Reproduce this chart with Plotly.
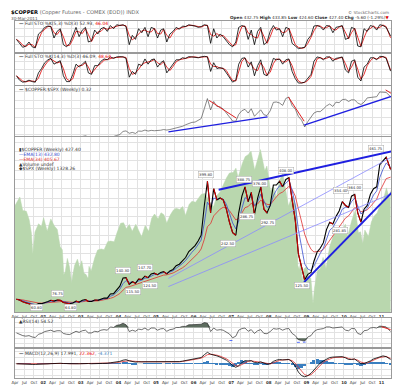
import plotly.graph_objects as go

# ---------------- DATA (monthly, Apr-2001 .. Mar-2011) ----------------
def month_dates(n=120, y0=2001, m0=4):
    out = []
    y, m = y0, m0
    for _ in range(n):
        out.append(f"{y}-{m:02d}-15")
        m += 1
        if m > 12:
            m, y = 1, y + 1
    return out

dates = month_dates()
dates[-1] = "2011-03-30"

copper_close = [
    78, 76, 71, 68, 66, 63, 61, 66, 66,
    70, 72, 75, 73, 76, 75, 69, 67, 66, 68, 73, 70,
    75, 77, 72, 72, 76, 75, 79, 81, 81, 92, 93, 104,
    113, 135, 136, 118, 125, 121, 132, 131, 140, 136, 146, 148,
    144, 150, 152, 146, 154, 158, 168, 172, 182, 190, 206, 214,
    222, 235, 250, 330, 395, 310, 375, 345, 350, 345, 320, 285,
    257, 250, 310, 355, 380, 340, 365, 305, 350, 380, 320, 310,
    330, 385, 385, 395, 380, 400, 405, 345, 290, 200, 165, 130,
    145, 150, 180, 205, 215, 230, 265, 285, 280, 300, 315, 340,
    330, 325, 355, 360, 310, 285, 320, 330, 360, 375, 380, 440,
    450, 460, 427,
]
ema13 = [
    78, 77, 74, 71, 68.5, 66, 63.5, 64.7, 65.4,
    67.7, 69.8, 72.4, 72.7, 74.4, 74.7, 71.8, 69.4, 67.7, 67.9, 70.4, 70.2,
    72.6, 74.8, 73.4, 72.7, 74.3, 74.7, 76.8, 78.9, 80, 86, 89.5, 96.7,
    105, 120, 128, 123, 124, 122.5, 127, 129, 134.6, 135.3, 140.6, 144.3,
    144, 147, 149.6, 147.8, 151, 154.5, 161, 166.6, 174, 182, 194, 204,
    213, 224, 237, 283, 339, 325, 350, 347, 349, 347, 333, 309,
    283, 267, 288, 322, 351, 345, 355, 330, 340, 360, 340, 325,
    328, 356, 371, 383, 381, 391, 398, 371, 331, 265, 215, 173,
    159, 155, 167, 186, 201, 215, 240, 263, 271, 286, 300, 320,
    325, 325, 340, 350, 330, 307, 314, 322, 341, 358, 369, 405,
    427, 444, 433,
]
ema34 = [
    78, 77.6, 76.2, 74.4, 72.5, 70.4, 68.3, 67.8, 67.4,
    68, 68.8, 70.2, 70.8, 72, 72.7, 72, 70.9, 69.8, 69.4, 70.2, 70.2,
    71.2, 72.5, 72.4, 72.3, 73.1, 73.5, 74.7, 76.1, 77.2, 80.4, 83.2, 87.8,
    93.3, 102.5, 109.8, 111.6, 114.5, 115.9, 119.4, 122, 126, 128, 132, 135.5,
    137.4, 140, 142.8, 143.5, 145.8, 148.5, 152.8, 157, 162.5, 168.6, 177, 185,
    193, 202, 213, 239, 273, 281, 302, 311, 320, 325, 324, 316,
    303, 291, 295, 308, 324, 327, 336, 329, 334, 344, 339, 333,
    332, 344, 353, 362, 366, 374, 381, 373, 355, 321, 287, 253,
    229, 212, 205, 205, 207, 212, 224, 237, 247, 259, 271, 286,
    296, 302, 314, 324, 321, 313, 315, 318, 327, 338, 347, 368,
    386, 402, 406,
]
copper_spx_ratio = [
    .062, .061, .058, .056, .058, .061, .058, .058, .057,
    .062, .065, .065, .068, .071, .076, .076, .073, .081, .077, .078, .080,
    .088, .092, .085, .079, .079, .077, .080, .080, .081, .088, .088, .094,
    .100, .118, .121, .107, .112, .106, .120, .119, .126, .120, .124, .122,
    .122, .125, .129, .126, .129, .133, .136, .141, .148, .157, .165, .171,
    .173, .183, .193, .252, .311, .244, .294, .265, .262, .250, .228, .201,
    .179, .178, .218, .240, .248, .226, .251, .207, .229, .245, .216, .211,
    .239, .289, .291, .285, .271, .312, .320, .269, .249, .206, .184, .144,
    .176, .204, .226, .235, .234, .250, .268, .279, .265, .290, .287, .305,
    .307, .294, .304, .303, .285, .276, .290, .315, .316, .317, .322, .350,
    .350, .347, .322,
]
sto5_k = [
    40, 25, 10, 15, 30, 12, 8, 60, 70,
    85, 90, 88, 45, 70, 80, 20, 12, 25, 55, 85, 50,
    75, 85, 30, 35, 75, 60, 80, 85, 70, 92, 80, 95,
    92, 95, 88, 20, 55, 40, 80, 65, 85, 50, 85, 80,
    45, 75, 80, 30, 60, 70, 85, 78, 90, 88, 95, 92,
    90, 85, 88, 95, 92, 25, 80, 45, 60, 50, 35, 20,
    12, 30, 85, 92, 88, 40, 75, 20, 70, 85, 20, 30,
    70, 92, 75, 80, 50, 85, 80, 25, 15, 5, 8, 10,
    40, 55, 90, 92, 88, 75, 92, 90, 65, 85, 88, 92,
    40, 45, 85, 80, 15, 12, 80, 70, 92, 88, 75, 95,
    92, 85, 53,
]
sto5_d = [
    40, 32, 18, 13, 22, 20, 10, 35, 65,
    78, 88, 89, 65, 58, 75, 50, 16, 18, 40, 70, 68,
    62, 80, 58, 32, 55, 68, 70, 82, 78, 82, 86, 88,
    93, 93, 91, 55, 38, 48, 60, 72, 75, 68, 68, 82,
    62, 60, 78, 55, 45, 65, 78, 82, 84, 89, 92, 93,
    91, 88, 86, 92, 93, 58, 52, 62, 52, 55, 42, 28,
    16, 20, 58, 88, 90, 64, 58, 48, 45, 78, 52, 25,
    50, 81, 84, 78, 65, 68, 82, 52, 20, 10, 6, 9,
    25, 48, 72, 91, 90, 82, 84, 91, 78, 75, 86, 90,
    66, 42, 65, 82, 48, 14, 46, 75, 81, 90, 82, 85,
    94, 88, 46,
]
sto14_k = [
    30, 15, 8, 10, 15, 10, 8, 40, 55,
    75, 85, 90, 70, 75, 82, 30, 10, 10, 35, 70, 60,
    70, 80, 40, 35, 65, 65, 80, 88, 85, 95, 90, 95,
    96, 95, 90, 25, 45, 35, 70, 65, 88, 70, 85, 88,
    60, 75, 82, 40, 55, 70, 85, 85, 92, 90, 96, 95,
    94, 92, 95, 97, 95, 45, 75, 55, 58, 55, 40, 22,
    8, 15, 70, 90, 92, 60, 78, 30, 65, 85, 35, 30,
    55, 90, 85, 88, 70, 85, 88, 45, 20, 5, 5, 8,
    20, 35, 80, 95, 92, 85, 95, 95, 80, 90, 92, 95,
    50, 40, 80, 85, 25, 12, 60, 70, 92, 92, 85, 97,
    96, 90, 46,
]
sto14_d = [
    30, 22, 12, 9, 12, 12, 10, 22, 48,
    65, 80, 88, 80, 74, 78, 55, 20, 12, 20, 55, 65,
    66, 75, 60, 38, 50, 65, 72, 84, 86, 90, 92, 93,
    95, 95, 93, 55, 35, 40, 52, 68, 75, 78, 80, 86,
    75, 68, 78, 60, 48, 62, 78, 85, 88, 91, 93, 95,
    95, 93, 94, 96, 96, 70, 62, 62, 56, 56, 48, 30,
    14, 12, 42, 80, 91, 75, 70, 52, 48, 75, 58, 32,
    42, 72, 88, 86, 78, 78, 86, 65, 32, 12, 6, 7,
    14, 28, 58, 88, 93, 88, 90, 95, 88, 86, 91, 93,
    72, 45, 60, 82, 52, 18, 35, 65, 82, 92, 88, 92,
    96, 93, 49,
]
rsi14 = [
    50, 45, 40, 38, 40, 35, 33, 45, 48,
    55, 58, 60, 55, 58, 58, 48, 45, 44, 50, 56, 52,
    58, 60, 50, 50, 56, 54, 60, 62, 60, 72, 70, 78,
    80, 86, 80, 55, 60, 56, 64, 62, 68, 60, 68, 68,
    60, 65, 66, 56, 62, 64, 70, 70, 74, 74, 80, 80,
    80, 80, 82, 88, 86, 55, 68, 60, 62, 60, 54, 46,
    32, 38, 60, 66, 68, 56, 62, 48, 58, 62, 48, 47,
    55, 66, 64, 66, 60, 65, 66, 48, 40, 25, 22, 20,
    35, 40, 55, 62, 64, 66, 72, 72, 68, 70, 72, 72,
    60, 58, 66, 66, 48, 44, 58, 60, 68, 70, 68, 75,
    74, 72, 55,
]
macd_line = [
    0, -1, -2, -3, -3, -3, -3, -2, -1,
    0, 1, 2, 2, 2, 2, 1, 0, -1, -1, 0, 0,
    1, 1, 1, 0, 0, 0, 1, 1, 2, 4, 5, 7,
    10, 15, 17, 12, 9, 7, 8, 8, 9, 8, 9, 9,
    8, 8, 8, 6, 6, 6, 8, 9, 11, 13, 16, 19,
    21, 23, 26, 38, 48, 40, 38, 33, 28, 22, 15, 5,
    -8, -15, -8, 5, 13, 12, 13, 5, 4, 8, 2, -2,
    0, 10, 15, 18, 16, 17, 18, 8, -10, -35, -50, -55,
    -50, -40, -25, -10, 3, 12, 20, 26, 28, 29, 28, 30,
    25, 18, 18, 20, 10, 0, 1, 5, 12, 20, 25, 30,
    33, 30, 18,
]
macd_signal = [
    0, 0, -1, -2, -2.5, -3, -3, -2.5, -2,
    -1, 0, 1, 1.5, 2, 2, 1.5, 1, 0, -0.5, -0.5, 0,
    0.5, 0.8, 1, 0.8, 0.5, 0.3, 0.5, 0.8, 1.3, 2.5, 3.5, 5,
    7, 10, 13, 13, 11, 9, 8, 8, 8.5, 8.3, 8.5, 8.7,
    8.5, 8.3, 8, 7, 6.5, 6.2, 7, 8, 9.5, 11, 13.5, 16,
    18.5, 21, 23.5, 30, 38, 40, 39, 36, 32, 27, 21, 12,
    2, -8, -10, -3, 6, 10, 12, 9, 6, 6, 4, 0,
    -1, 4, 10, 14, 16, 16.5, 17.5, 13, 2, -15, -33, -46,
    -50, -46, -35, -20, -6, 6, 14, 21, 25, 27, 28, 29,
    27, 22, 19, 19, 15, 7, 3, 3, 8, 15, 21, 26,
    30, 31, 22,
]
macd_hist = [
    0, -1, -1, -1, -0.5, 0, 0, 0.5, 1,
    1, 1, 1, 0.5, 0, 0, -0.5, -1, -1, -0.5, 0.5, 0,
    0.5, 0.2, 0, -0.8, -0.5, -0.3, 0.5, 0.2, 0.7, 1.5, 1.5, 2,
    3, 5, 4, -1, -2, -2, 0, 0, 0.5, -0.3, 0.5, 0.3,
    -0.5, -0.3, 0, -1, -0.5, -0.2, 1, 1, 1.5, 2, 2.5, 3,
    2.5, 2, 2.5, 9, 12, 1, -1, -3, -4, -6, -7, -8,
    -12, -8, 9, 14, 12, 3, 2, -5, -3, 3, -3, -3,
    2, 7, 6, 5, 1, 1, 1, -6, -14, -22, -18, -10,
    0, 9, 16, 18, 17, 14, 10, 6, 4, 3, 1, 2,
    -3, -5, -2, 2, -6, -8, -3, 3, 5, 6, 5, 5,
    4, -1, -4,
]

spx_dates = [
    "2001-04-01", "2001-05-18", "2001-06-15", "2001-07-20", "2001-08-17", "2001-09-07", "2001-09-21",
    "2001-10-12", "2001-11-16", "2001-12-14",
    "2002-01-04", "2002-02-08", "2002-03-15", "2002-04-19", "2002-05-17", "2002-06-14", "2002-07-05",
    "2002-07-19", "2002-08-02", "2002-08-23", "2002-09-13", "2002-10-04", "2002-10-11", "2002-11-01",
    "2002-11-29", "2002-12-20",
    "2003-01-10", "2003-01-31", "2003-02-21", "2003-03-07", "2003-03-14", "2003-03-21", "2003-04-11",
    "2003-05-16", "2003-06-13", "2003-07-18", "2003-08-15", "2003-09-19", "2003-10-17", "2003-11-21",
    "2003-12-19",
    "2004-01-23", "2004-02-20", "2004-03-19", "2004-04-16", "2004-05-14", "2004-06-18", "2004-07-16",
    "2004-08-13", "2004-09-17", "2004-10-22", "2004-11-19", "2004-12-17",
    "2005-01-21", "2005-02-18", "2005-03-18", "2005-04-15", "2005-05-20", "2005-06-17", "2005-07-15",
    "2005-08-19", "2005-09-16", "2005-10-14", "2005-11-18", "2005-12-16",
    "2006-01-20", "2006-02-17", "2006-03-17", "2006-04-21", "2006-05-12", "2006-06-16", "2006-07-14",
    "2006-08-18", "2006-09-15", "2006-10-20", "2006-11-17", "2006-12-15",
    "2007-01-19", "2007-02-16", "2007-03-09", "2007-04-20", "2007-05-18", "2007-06-15", "2007-07-13",
    "2007-08-17", "2007-09-21", "2007-10-12", "2007-11-23", "2007-12-14",
    "2008-01-18", "2008-02-15", "2008-03-14", "2008-04-18", "2008-05-16", "2008-06-20", "2008-07-11",
    "2008-08-15", "2008-09-12", "2008-09-26", "2008-10-10", "2008-10-24", "2008-11-07", "2008-11-21",
    "2008-12-05", "2008-12-19",
    "2009-01-09", "2009-01-23", "2009-02-13", "2009-03-06", "2009-03-20", "2009-04-17", "2009-05-15",
    "2009-06-12", "2009-07-10", "2009-08-14", "2009-09-18", "2009-10-16", "2009-11-20", "2009-12-18",
    "2010-01-15", "2010-02-05", "2010-03-19", "2010-04-23", "2010-05-21", "2010-06-11", "2010-07-02",
    "2010-07-23", "2010-08-27", "2010-09-24", "2010-10-22", "2010-11-19", "2010-12-17",
    "2011-01-21", "2011-02-18", "2011-03-18", "2011-03-25", "2011-03-30",
]
spx_values = [
    1242, 1291, 1214, 1210, 1161, 1085, 966, 1091, 1138, 1123,
    1172, 1096, 1166, 1125, 1106, 1007, 989, 847, 864, 940, 889, 800, 835, 900, 936, 889,
    927, 856, 848, 829, 833, 895, 868, 944, 988, 994, 990, 1036, 1039, 1035, 1088,
    1141, 1144, 1109, 1134, 1095, 1135, 1101, 1064, 1128, 1095, 1170, 1194,
    1167, 1201, 1190, 1143, 1189, 1216, 1227, 1220, 1237, 1186, 1248, 1267,
    1261, 1287, 1307, 1311, 1291, 1251, 1237, 1302, 1320, 1368, 1401, 1428,
    1431, 1456, 1402, 1484, 1522, 1533, 1553, 1445, 1526, 1562, 1441, 1468,
    1325, 1350, 1288, 1390, 1425, 1318, 1239, 1298, 1252, 1213, 899, 877, 930, 800, 876, 887,
    890, 832, 827, 683, 768, 869, 882, 946, 879, 1004, 1068, 1087, 1091, 1102,
    1136, 1066, 1160, 1217, 1087, 1092, 1022, 1102, 1065, 1148, 1183, 1199, 1244,
    1283, 1343, 1279, 1313, 1328,
]

# trend lines (start/end date, start/end value)
ratio_lines = [  # (d0, v0, d1, v1, color, width)
    ("2005-05-01", 0.115, "2007-12-20", 0.203, "#1f1fe0", 1.3),
    ("2006-06-01", 0.300, "2007-02-20", 0.196, "#e02020", 1.0),
    ("2008-07-10", 0.320, "2008-12-10", 0.178, "#e02020", 1.0),
    ("2008-12-10", 0.155, "2011-09-15", 0.356, "#1f1fe0", 1.3),
    ("2011-02-10", 0.362, "2011-04-15", 0.338, "#e02020", 1.0),
]
price_lines = [
    ("2006-09-01", 372, "2011-09-15", 485, "#1f1fe0", 2.0),
    ("2005-05-01", 134, "2011-09-15", 484, "#8a8aff", 0.8),
    ("2005-05-01", 112, "2011-09-15", 380, "#8a8aff", 0.8),
    ("2008-12-10", 124, "2011-09-15", 409, "#1f1fe0", 2.0),
]
rsi_lines = [
    ("2006-12-15", 22, "2007-02-10", 22, "#3050ff", 0.8),
    ("2008-10-01", 15, "2008-12-25", 16, "#3050ff", 0.8),
    ("2011-01-01", 73, "2011-03-30", 62, "#e02020", 1.0),
]
price_labels = [  # (date, value, text)
    ("2001-10-26", 56, "60.80"), ("2002-05-18", 92, "76.75"), ("2002-09-23", 56, "64.80"),
    ("2004-02-10", 154, "140.30"), ("2004-05-25", 100, "115.50"), ("2004-09-20", 162, "147.70"),
    ("2004-11-01", 114, "124.50"), ("2006-05-05", 412, "399.80"), ("2007-05-01", 399, "388.75"),
    ("2007-10-10", 390, "376.00"), ("2007-06-01", 299, "286.75"), ("2007-12-25", 283, "292.75"),
    ("2006-12-01", 229, "242.50"), ("2008-06-20", 425, "408.00"), ("2008-11-15", 116, "125.50"),
    ("2009-12-05", 369, "354.40"), ("2010-04-20", 377, "364.00"), ("2009-11-25", 264, "281.85"),
    ("2010-11-10", 482, "461.75"),
]

# ---------------- LAYOUT HELPERS ----------------
W, H = 400, 386
L, R = 7, 17
FONT = "DejaVu Sans"
FS = 4.5
TFS = 4.0


def fy(py):
    return 1 - py / H


def fx(px):
    return (px - L) / (W - L - R)


tickvals, ticktext = [], []
for yr in range(2001, 2012):
    for mo, lab in [(1, None), (4, "Apr"), (7, "Jul"), (10, "Oct")]:
        d = f"{yr}-{mo:02d}-01"
        if d < "2001-04-01" or d > "2011-03-31":
            continue
        tickvals.append(d)
        ticktext.append(lab if lab else f"<b>{str(yr)[2:]}</b>")

XR = ["2001-04-01", "2011-04-03"]
GRID = "#e2e2e2"
LINE = "#9a9a9a"

# red segments for falling months of the price series
down_x, down_y = [], []
for i in range(1, len(copper_close)):
    if copper_close[i] < copper_close[i - 1]:
        down_x += [dates[i - 1], dates[i], None]
        down_y += [copper_close[i - 1], copper_close[i], None]

fig = go.Figure()

# STO 5
fig.add_trace(go.Scatter(x=dates, y=sto5_d, mode="lines", line=dict(color="#e00000", width=0.8), xaxis="x", yaxis="y"))
fig.add_trace(go.Scatter(x=dates, y=sto5_k, mode="lines", line=dict(color="black", width=0.8), xaxis="x", yaxis="y"))
# STO 14
fig.add_trace(go.Scatter(x=dates, y=sto14_d, mode="lines", line=dict(color="#e00000", width=0.8), xaxis="x", yaxis="y2"))
fig.add_trace(go.Scatter(x=dates, y=sto14_k, mode="lines", line=dict(color="black", width=0.8), xaxis="x", yaxis="y2"))
# ratio
fig.add_trace(go.Scatter(x=dates, y=copper_spx_ratio, mode="lines", line=dict(color="#555555", width=0.7), xaxis="x", yaxis="y3"))
for d0, v0, d1, v1, c, w in ratio_lines:
    fig.add_trace(go.Scatter(x=[d0, d1], y=[v0, v1], mode="lines", line=dict(color=c, width=w), xaxis="x", yaxis="y3"))
# SPX area (base axis of main panel)
fig.add_trace(go.Scatter(x=spx_dates, y=spx_values, mode="lines", fill="tozeroy", fillcolor="#b9d7ae",
                         line=dict(color="#b9d7ae", width=0.5), xaxis="x", yaxis="y4"))
# main price panel
fig.add_trace(go.Scatter(x=dates, y=ema34, mode="lines", line=dict(color="#e03030", width=0.8), xaxis="x", yaxis="y5"))
fig.add_trace(go.Scatter(x=dates, y=ema13, mode="lines", line=dict(color="#3a4fd0", width=0.8), xaxis="x", yaxis="y5"))
fig.add_trace(go.Scatter(x=dates, y=copper_close, mode="lines", line=dict(color="black", width=1.1), xaxis="x", yaxis="y5"))
fig.add_trace(go.Scatter(x=down_x, y=down_y, mode="lines", line=dict(color="#cc0000", width=1.1), xaxis="x", yaxis="y5"))
for d0, v0, d1, v1, c, w in price_lines:
    fig.add_trace(go.Scatter(x=[d0, d1], y=[v0, v1], mode="lines", line=dict(color=c, width=w), xaxis="x", yaxis="y5"))
# RSI
rsi_hi = [max(v, 70) for v in rsi14]
rsi_lo = [min(v, 30) for v in rsi14]
fig.add_trace(go.Scatter(x=dates, y=[70] * len(dates), mode="lines", line=dict(width=0, color="rgba(0,0,0,0)"), xaxis="x", yaxis="y6"))
fig.add_trace(go.Scatter(x=dates, y=rsi_hi, mode="lines", fill="tonexty", fillcolor="#5d6d5f", line=dict(width=0, color="rgba(0,0,0,0)"), xaxis="x", yaxis="y6"))
fig.add_trace(go.Scatter(x=dates, y=[30] * len(dates), mode="lines", line=dict(width=0, color="rgba(0,0,0,0)"), xaxis="x", yaxis="y6"))
fig.add_trace(go.Scatter(x=dates, y=rsi_lo, mode="lines", fill="tonexty", fillcolor="#5d6d5f", line=dict(width=0, color="rgba(0,0,0,0)"), xaxis="x", yaxis="y6"))
fig.add_trace(go.Scatter(x=dates, y=rsi14, mode="lines", line=dict(color="#333333", width=0.7), xaxis="x", yaxis="y6"))
for d0, v0, d1, v1, c, w in rsi_lines:
    fig.add_trace(go.Scatter(x=[d0, d1], y=[v0, v1], mode="lines", line=dict(color=c, width=w, dash="dot" if c != "#e02020" else "solid"), xaxis="x", yaxis="y6"))
# MACD
fig.add_trace(go.Bar(x=dates, y=macd_hist, marker=dict(color="#3a7fc0", line=dict(width=0)), width=30 * 86400000, xaxis="x2", yaxis="y7"))
fig.add_trace(go.Scatter(x=dates, y=macd_signal, mode="lines", line=dict(color="#e03030", width=0.8), xaxis="x2", yaxis="y7"))
fig.add_trace(go.Scatter(x=dates, y=macd_line, mode="lines", line=dict(color="black", width=0.8), xaxis="x2", yaxis="y7"))

yax = dict(side="right", anchor="x", showline=True, mirror=True, linecolor=LINE, linewidth=0.6,
           showgrid=True, gridcolor=GRID, gridwidth=0.6, zeroline=False, ticks="", ticklen=0,
           tickfont=dict(family=FONT, size=TFS, color="#333"), fixedrange=True)
xax = dict(type="date", range=XR, tickvals=tickvals, ticktext=ticktext, tickangle=0,
           showline=True, mirror="all", linecolor=LINE, linewidth=0.6, showgrid=True,
           gridcolor=GRID, gridwidth=0.6, zeroline=False, ticks="", ticklen=0,
           tickfont=dict(family=FONT, size=TFS, color="#333"), fixedrange=True)

fig.update_layout(
    width=W, height=H, margin=dict(l=L, r=R, t=0, b=0),
    paper_bgcolor="white", plot_bgcolor="white", showlegend=False, bargap=0,
    font=dict(family=FONT, size=FS, color="#333"),
    xaxis=dict(xax, anchor="y4", domain=[0, 1]),
    xaxis2=dict(xax, anchor="y7", domain=[0, 1], matches="x"),
    yaxis=dict(yax, domain=[fy(44), fy(13)], range=[-7.5, 109], tickvals=[20, 50, 80]),
    yaxis2=dict(yax, domain=[fy(77), fy(46)], range=[-1.7, 105], tickvals=[20, 50, 80]),
    yaxis3=dict(yax, domain=[fy(128), fy(78)], range=[0.091, 0.385],
                tickvals=[0.10, 0.15, 0.20, 0.25, 0.30, 0.35], tickformat=".2f"),
    yaxis4=dict(domain=[fy(304), fy(129)], range=[634, 1634], anchor="x", visible=False, fixedrange=True),
    yaxis5=dict(yax, overlaying="y4", range=[43.6, 514], tickvals=list(range(50, 501, 25))),
    yaxis6=dict(yax, domain=[fy(339), fy(310)], range=[-2, 105], tickvals=[10, 30, 50, 70, 90]),
    yaxis7=dict(yax, anchor="x2", domain=[fy(370), fy(341)], range=[-60, 62], tickvals=[-50, -25, 0, 25, 50]),
)

ann = []


def txt(px, py, s, size=FS, color="#333", xanchor="left", bold=False):
    ann.append(dict(x=fx(px), y=fy(py), xref="paper", yref="paper", text=(f"<b>{s}</b>" if bold else s),
                    showarrow=False, xanchor=xanchor, yanchor="middle",
                    font=dict(family=FONT, size=size, color=color)))


txt(1, 4.5, "<b>$COPPER</b> <span style='color:#666'>(Copper Futures - COMEX (EOD)) INDX</span>", size=5.2, color="#000")
txt(1, 10.5, "30-Mar-2011", size=4.2, color="#555")
txt(383, 4, "© StockCharts.com", size=4.2, color="#666", xanchor="right")
txt(383, 10, "<b>Open</b> 432.75 <b>High</b> 433.85 <b>Low</b> 424.60 <b>Close</b> 427.40 <b>Chg</b> -5.60 (-1.29%)<span style='color:#d00'>▼</span>",
    size=4.2, color="#333", xanchor="right")
txt(9, 15.5, "<b>—</b> Full STO %K(5,3) %D(3) 52.93, <span style='color:#e00'>46.04</span>")
txt(9, 48.5, "<b>—</b> Full STO %K(14,3) %D(3) 46.09, <span style='color:#e00'>48.64</span>")
txt(9, 82, "<b>—</b> $COPPER:$SPX (Weekly) 0.32")
txt(9, 141, "<b>▮</b>$COPPER (Weekly) 427.40")
txt(9, 146, "<span style='color:#3a4fd0'>—EMA(13) 432.80</span>")
txt(9, 151, "<span style='color:#e03030'>—EMA(34) 405.67</span>")
txt(9, 156, "<b>▲</b>Volume undef")
txt(9, 161, "<b>◆</b>$SPX (Weekly) 1328.26")
txt(9, 313.5, "<b>▲</b>RSI(14) 54.52")
txt(9, 345, "<b>—</b> MACD(12,26,9) 17.991, <span style='color:#e00'>22.362</span>, <span style='color:#3a7fc0'>-4.371</span>")

for d, v, s in price_labels:
    ann.append(dict(x=d, y=v, xref="x", yref="y5", text=s, showarrow=False,
                    font=dict(family=FONT, size=3.8, color="#333"), bgcolor="white",
                    bordercolor="#aaa", borderwidth=0.5, borderpad=0.5))

fig.update_layout(annotations=ann)
fig.write_html("out.html")
